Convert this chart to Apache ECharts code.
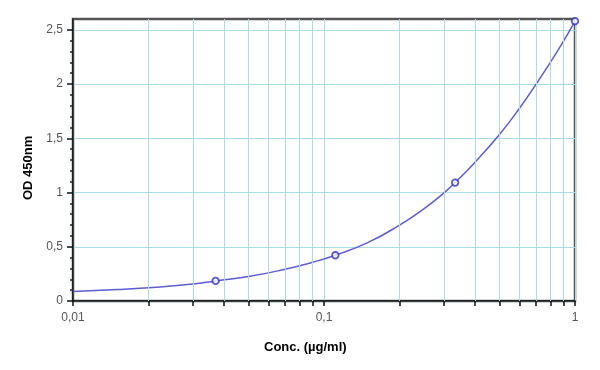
<!DOCTYPE html>
<html><head><meta charset="utf-8">
<script src="https://cdn.jsdelivr.net/npm/echarts@6/dist/echarts.min.js"></script>
<style>html,body{margin:0;padding:0;background:#fff}#c{width:600px;height:370px}</style>
</head><body><div id="c"></div>
<script>
// Standards (concentration µg/ml, OD 450nm)
const stdConc = [0.037, 0.111, 0.333, 1];
const stdOD = [0.185, 0.422, 1.092, 2.58];
// Fitted curve
const fitConc = [0.01, 0.015, 0.02, 0.03, 0.037, 0.05, 0.07, 0.09, 0.111, 0.15, 0.2, 0.25, 0.3, 0.333, 0.4, 0.5, 0.6, 0.7, 0.8, 0.9, 1];
const fitOD = [0.088, 0.105, 0.122, 0.157, 0.185, 0.225, 0.293, 0.357, 0.422, 0.54, 0.70, 0.85, 0.995, 1.092, 1.28, 1.535, 1.775, 2.0, 2.205, 2.395, 2.58];
// Axis ticks
const xMajorTicks = [0.01, 0.1, 1];
const xMinorTicks = [0.02, 0.03, 0.04, 0.05, 0.06, 0.07, 0.08, 0.09, 0.2, 0.3, 0.4, 0.5, 0.6, 0.7, 0.8, 0.9];
const yMajorTicks = [0, 0.5, 1, 1.5, 2, 2.5];
const yMinorTicks = [0.1, 0.2, 0.3, 0.4, 0.6, 0.7, 0.8, 0.9, 1.1, 1.2, 1.3, 1.4, 1.6, 1.7, 1.8, 1.9, 2.1, 2.2, 2.3, 2.4];
const xTitle = 'Conc. (µg/ml)';
const yTitle = 'OD 450nm';

const gridColor = '#a9dbe8';
const comma = v => String(v).replace('.', ',');
const chart = echarts.init(document.getElementById('c'), null, {renderer: 'canvas'});
chart.setOption({
  animation: false,
  backgroundColor: '#fff',
  textStyle: {fontFamily: 'Liberation Sans, Arial, sans-serif'},
  grid: {left: 73, right: 25, top: 19, bottom: 69, show: true, borderColor: '#555', borderWidth: 2.5, backgroundColor: '#fff'},
  xAxis: {
    type: 'log', logBase: 10, min: 0.01, max: 1,
    axisLine: {show: true, lineStyle: {color: '#111', width: 1.5}},
    axisTick: {show: true, length: 5, lineStyle: {color: '#111', width: 1.5}, customValues: xMajorTicks.concat(xMinorTicks)},
    axisLabel: {color: '#555', fontSize: 12, margin: 11, customValues: xMajorTicks, formatter: v => comma(v)},
    splitLine: {show: true, lineStyle: {color: gridColor, width: 1}},
    minorSplitLine: {show: false}
  },
  yAxis: [{
    type: 'value', min: 0, max: 2.6, interval: 0.5,
    axisLine: {show: true, lineStyle: {color: '#111', width: 1.5}},
    axisTick: {show: true, length: 6, lineStyle: {color: '#111', width: 1.5}, customValues: yMajorTicks},
    axisLabel: {color: '#555', fontSize: 12, margin: 10, customValues: yMajorTicks, formatter: v => comma(v)},
    splitLine: {show: true, lineStyle: {color: gridColor, width: 1}}
  }, {
    type: 'value', min: 0, max: 2.6, position: 'left',
    axisLine: {show: false},
    axisTick: {show: true, length: 3, lineStyle: {color: '#222', width: 1.5}, customValues: yMinorTicks},
    axisLabel: {show: false},
    splitLine: {show: false}
  }],
  graphic: [
    {type: 'text', left: 264, top: 341, style: {text: xTitle, font: 'bold 13px Liberation Sans, Arial, sans-serif', fill: '#000'}},
    {type: 'text', x: 22, y: 200, rotation: Math.PI / 2, style: {text: yTitle, font: 'bold 13px Liberation Sans, Arial, sans-serif', fill: '#000'}}
  ],
  series: [{
    type: 'line', name: 'grid', data: [], silent: true, z: 1,
    markLine: {silent: true, symbol: 'none', label: {show: false}, animation: false,
      lineStyle: {color: gridColor, type: 'solid', width: 1},
      data: xMinorTicks.map(v => ({xAxis: v}))}
  }, {
    type: 'line', name: 'fit', data: fitConc.map((c, i) => [c, fitOD[i]]),
    smooth: 0.5, showSymbol: false, z: 3,
    lineStyle: {color: '#5c5cd4', width: 1.5}
  }, {
    type: 'scatter', name: 'standards', data: stdConc.map((c, i) => [c, stdOD[i]]),
    symbol: 'circle', symbolSize: 6.5, z: 4,
    itemStyle: {color: '#fff', borderColor: '#2a2ad0', borderWidth: 1.8}
  }]
});
</script></body></html>
